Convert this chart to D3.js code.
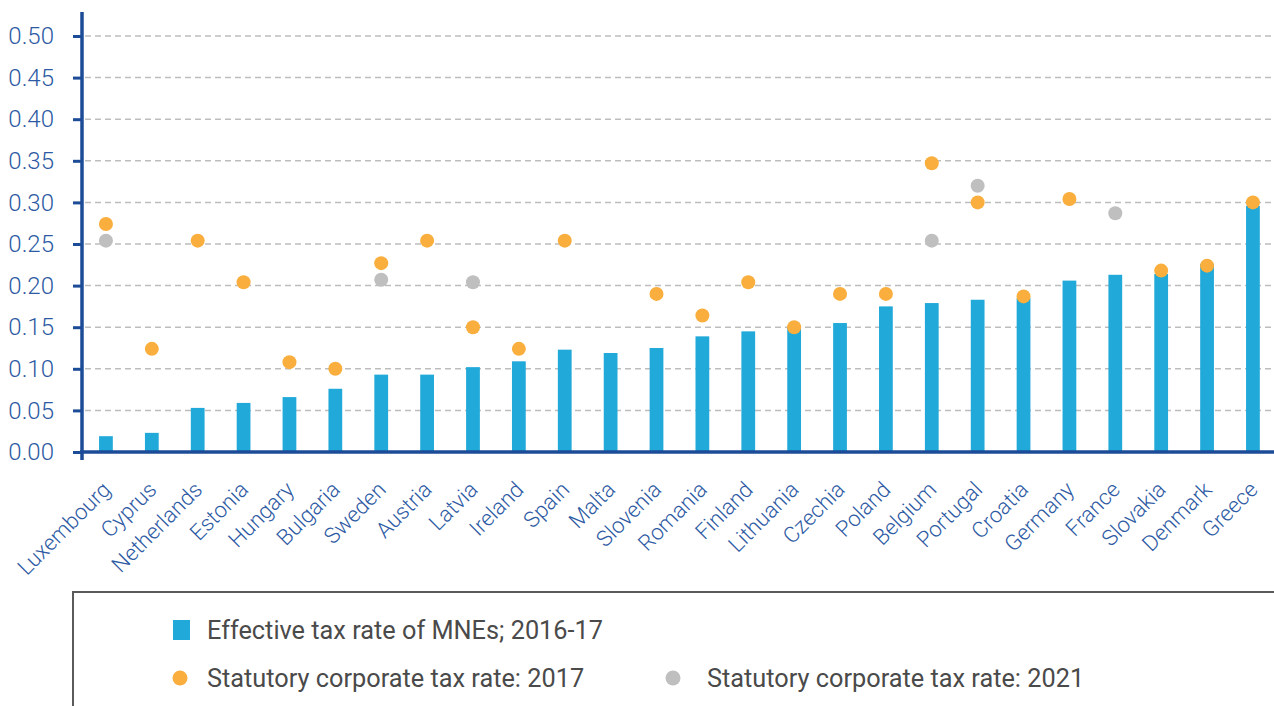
<!DOCTYPE html>
<html><head><meta charset="utf-8">
<script src="https://cdn.jsdelivr.net/npm/d3@7"></script>
<style>
html,body{margin:0;padding:0;background:#fff;}
svg{display:block;font-family:Roboto,"Noto Sans",sans-serif;}
</style></head>
<body>
<svg id="c" width="1274" height="706"></svg>
<script>
const categories = ["Luxembourg","Cyprus","Netherlands","Estonia","Hungary","Bulgaria","Sweden","Austria","Latvia","Ireland","Spain","Malta","Slovenia","Romania","Finland","Lithuania","Czechia","Poland","Belgium","Portugal","Croatia","Germany","France","Slovakia","Denmark","Greece"];
const effective = [0.019,0.023,0.053,0.059,0.066,0.076,0.093,0.093,0.102,0.109,0.123,0.119,0.125,0.139,0.145,0.150,0.155,0.175,0.179,0.183,0.185,0.206,0.213,0.214,0.226,0.296];
const statutory2017 = [0.274,0.124,0.254,0.204,0.108,0.100,0.227,0.254,0.150,0.124,0.254,null,0.190,0.164,0.204,0.150,0.190,0.190,0.347,0.300,0.187,0.304,null,0.218,0.224,0.300];
const statutory2021 = [0.254,null,null,null,null,null,0.207,null,0.204,null,null,null,null,null,null,null,null,null,0.254,0.320,null,null,0.287,null,null,null];
const yTicks = [0,0.05,0.10,0.15,0.20,0.25,0.30,0.35,0.40,0.45,0.50];
const legendLabels = ["Effective tax rate of MNEs; 2016-17","Statutory corporate tax rate: 2017","Statutory corporate tax rate: 2021"];

const svg = d3.select("#c");
const axisBlue = "#1c4b97", textBlue = "#2d5aa3";
const barColor = "#21a9d9", orange = "#f9ae3d", grey = "#bfbfbf";

const x = d3.scaleBand().domain(categories).range([83, 83 + 45.88*categories.length]).paddingInner(0.7).paddingOuter(0.35);
const y = d3.scaleLinear().domain([0,0.5]).range([452,36]);

// gridlines
svg.append("g").selectAll("line").data(yTicks.filter(d=>d>0)).join("line")
  .attr("x1",85).attr("x2",1274).attr("y1",d=>y(d)).attr("y2",d=>y(d))
  .attr("stroke","#bdbdbd").attr("stroke-width",1.5).attr("stroke-dasharray","6,4");

// bars
svg.append("g").selectAll("rect").data(categories).join("rect")
  .attr("x",d=>x(d)).attr("width",x.bandwidth())
  .attr("y",(d,i)=>y(effective[i])).attr("height",(d,i)=>y(0)-y(effective[i]))
  .attr("fill",barColor);

// dots 2021
svg.append("g").selectAll("circle").data(categories.map((c,i)=>({c,v:statutory2021[i]})).filter(d=>d.v!=null)).join("circle")
  .attr("cx",d=>x(d.c)+x.bandwidth()/2).attr("cy",d=>y(d.v)).attr("r",7).attr("fill",grey);
// dots 2017
svg.append("g").selectAll("circle").data(categories.map((c,i)=>({c,v:statutory2017[i]})).filter(d=>d.v!=null)).join("circle")
  .attr("cx",d=>x(d.c)+x.bandwidth()/2).attr("cy",d=>y(d.v)).attr("r",7).attr("fill",orange);

// y axis
const yAxis = d3.axisLeft(y).tickValues(yTicks).tickFormat(d3.format(".2f")).tickSize(9).tickPadding(18);
const gy = svg.append("g").attr("transform","translate(82,0)").call(yAxis);
gy.select(".domain").remove();
gy.selectAll(".tick line").attr("stroke",axisBlue).attr("stroke-width",3);
gy.selectAll(".tick text").attr("fill",textBlue).attr("font-size",24).attr("font-weight",300).attr("font-family","Roboto").attr("x",-28);
svg.append("line").attr("x1",82).attr("x2",82).attr("y1",12).attr("y2",460).attr("stroke",axisBlue).attr("stroke-width",3.5);

// x axis
const xAxis = d3.axisBottom(x).tickSize(0).tickPadding(0);
const gx = svg.append("g").attr("transform","translate(0,452)").call(xAxis);
gx.select(".domain").remove();
gx.selectAll(".tick text").attr("fill",textBlue).attr("font-size",22).attr("font-weight",300).attr("font-family","Roboto")
  .attr("text-anchor","end").attr("dy",0).attr("y",0)
  .attr("transform","translate(6,39) rotate(-45)");
svg.append("line").attr("x1",80).attr("x2",1274).attr("y1",452).attr("y2",452).attr("stroke",axisBlue).attr("stroke-width",3.5);

// legend
const lg = svg.append("g");
lg.append("rect").attr("x",73).attr("y",592).attr("width",1240).attr("height",140).attr("fill","none").attr("stroke","#5a5a5a").attr("stroke-width",2);
lg.append("rect").attr("x",173).attr("y",620).attr("width",17).attr("height",20).attr("fill",barColor);
lg.append("circle").attr("cx",180).attr("cy",678).attr("r",7.5).attr("fill",orange);
lg.append("circle").attr("cx",673).attr("cy",678).attr("r",7.5).attr("fill",grey);
const lt = [[207,630,legendLabels[0]],[207,678,legendLabels[1]],[707,678,legendLabels[2]]];
lg.selectAll("text").data(lt).join("text").attr("x",d=>d[0]).attr("y",d=>d[1]).attr("dy","0.35em")
  .attr("fill","#4a4a4a").attr("font-size",25.3).attr("font-weight",400).attr("font-family","Roboto").text(d=>d[2]);
</script>
</body></html>
